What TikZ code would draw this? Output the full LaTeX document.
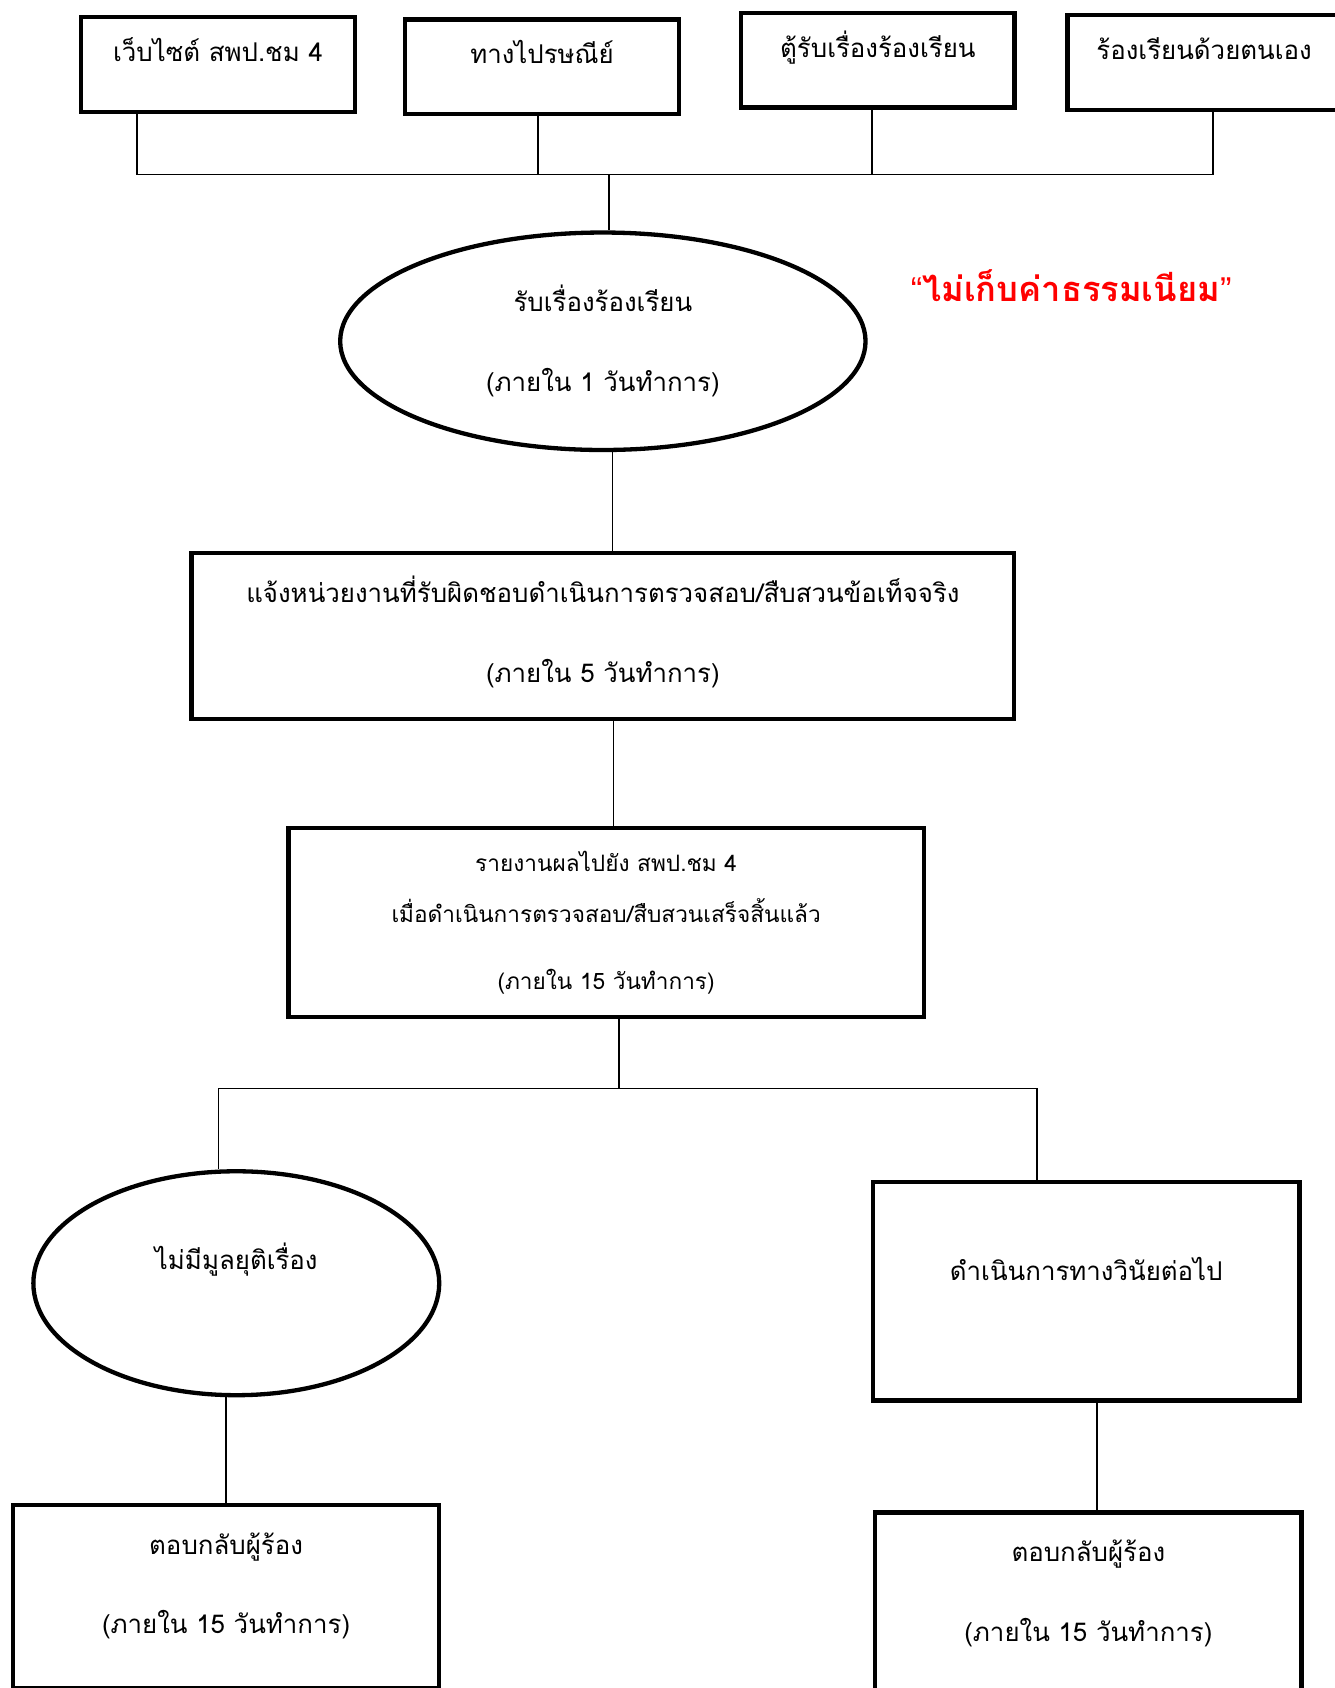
\documentclass[tikz,border=0pt]{standalone}
\usepackage{fontspec}
\setmainfont[Script=Thai]{Loma}
\newfontfamily\quotefont{Liberation Sans}
\usetikzlibrary{shapes.geometric}
\usetikzlibrary{positioning}
\newcommand{\flowfont}{\fontsize{12}{15}\selectfont}
\newcommand{\smallflow}{\fontsize{10.5}{13}\selectfont}
\tikzstyle{src} = [draw, line width=2pt, minimum width=127pt, minimum height=44pt, inner sep=0pt, text height=9pt, text depth=12pt, font=\flowfont]
\tikzstyle{box} = [draw, line width=2pt, align=center, inner sep=0pt, font=\flowfont]
\tikzstyle{oval} = [draw, ellipse, line width=2pt, align=center, inner sep=0pt, font=\flowfont]
\tikzstyle{link} = [line width=0.8pt]
\tikzstyle{fee} = [text=red, font=\bfseries\fontsize{16}{19}\selectfont]
\begin{document}
\begin{tikzpicture}[x=0.5pt, y=-0.5pt]
	\clip (0,0) rectangle (1240,1568);

	% channels
	\node[src] (web) at (202.5,60) {เว็บไซต์ สพป.ชม 4};
	\node[src] (post) at (503.5,62) {ทางไปรษณีย์};
	\node[src] (mailbox) at (815.5,56) {ตู้รับเรื่องร้องเรียน};
	\node[src] (walkin) at (1118.5,58) {ร้องเรียนด้วยตนเอง};
	\coordinate (bus) at (566,162);

	% intake
	\node[oval, minimum width=244pt, minimum height=101pt] (recv) at (560,317) {รับเรื่องร้องเรียน\\[22pt](ภายใน 1 วันทำการ)};
	\node[fee] (free) at (995,265) {{\quotefont\mdseries “}ไม่เก็บค่าธรรมเนียม{\quotefont\mdseries ”}};
	\node[box, below=46pt of recv, minimum width=382pt, minimum height=77pt] (notify) {แจ้งหน่วยงานที่รับผิดชอบดำเนินการตรวจสอบ/สืบสวนข้อเท็จจริง\\[22pt](ภายใน 5 วันทำการ)\\[-8.5pt]\mbox{}};
	\node[box, below=48.5pt of notify, xshift=1.5pt, minimum width=295pt, minimum height=88pt, font=\smallflow] (report) {รายงานผลไปยัง สพป.ชม 4\\[11pt]เมื่อดำเนินการตรวจสอบ/สืบสวนเสร็จสิ้นแล้ว\\[18pt](ภายใน 15 วันทำการ)};
	\coordinate (split) at (575,1011);

	% outcome
	\node[oval, minimum width=188.5pt, minimum height=104pt, text height=9pt, text depth=22pt] (none) at (219.5,1192) {ไม่มีมูลยุติเรื่อง};
	\node[box, minimum width=198pt, minimum height=101.5pt, text height=9pt, text depth=19pt] (act) at (1009,1199.5) {ดำเนินการทางวินัยต่อไป};
	\node[box, below=49pt of none, xshift=-4.75pt, minimum width=198pt, minimum height=85pt] (ansl) {ตอบกลับผู้ร้อง\\[22pt](ภายใน 15 วันทำการ)\\[-2.5pt]\mbox{}};
	\node[box, below=50pt of act, xshift=1pt, minimum width=198pt, minimum height=85pt] (ansr) {ตอบกลับผู้ร้อง\\[22pt](ภายใน 15 วันทำการ)\\[-2.5pt]\mbox{}};

	% connectors
	\foreach \n/\dx in {web/-37.75pt, post/-1.75pt, mailbox/-2.75pt, walkin/4.25pt}
		\draw[link] ([xshift=\dx]\n.south) |- (bus);
	\draw[link] (bus) -- (bus |- recv.north);
	\draw[link] ([xshift=4.5pt]recv.south) -- ([xshift=4.5pt]recv.south |- notify.north);
	\draw[link] ([xshift=5pt]notify.south) -- ([xshift=5pt]notify.south |- report.north);
	\draw[link] (split |- report.south) -- (split);
	\draw[link] ([xshift=-8.25pt]none.north) |- (split);
	\draw[link] ([xshift=-23pt]act.north) |- (split);
	\draw[link] (ansl.north) -- (ansl.north |- none.south);
	\draw[link] ([xshift=5pt]act.south) -- ([xshift=5pt]act.south |- ansr.north);
\end{tikzpicture}
\end{document}
